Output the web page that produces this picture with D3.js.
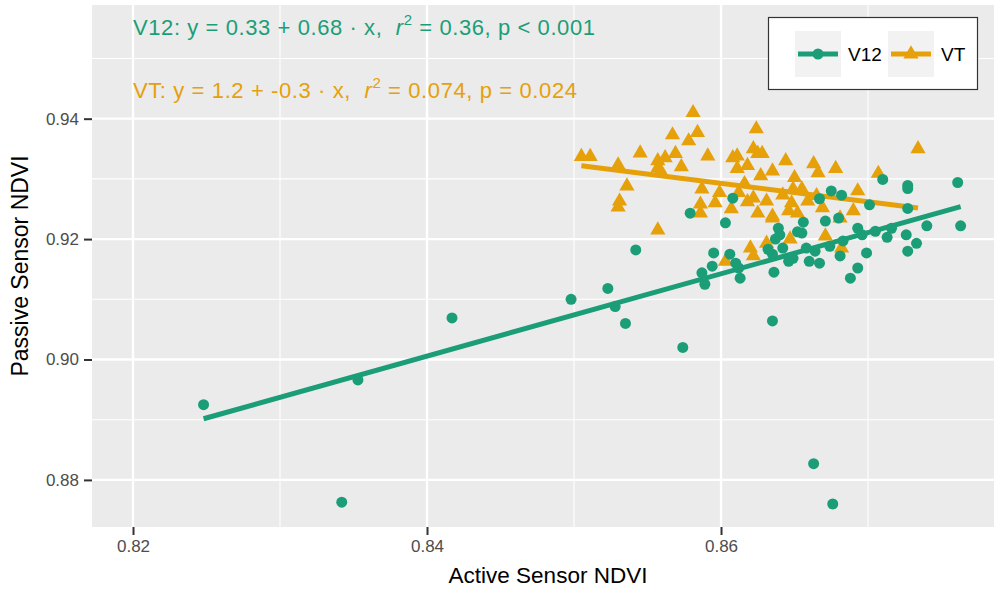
<!DOCTYPE html>
<html>
<head>
<meta charset="utf-8">
<script src="https://cdn.jsdelivr.net/npm/d3@7"></script>
<style>
  body { margin: 0; background: #fff; }
  text { font-family: "Liberation Sans", Arial, sans-serif; }
</style>
</head>
<body>
<svg id="chart" width="994" height="590"></svg>
<script>
// V12 points: active NDVI (x) vs passive NDVI (y)
const v12X = [0.8248, 0.8342, 0.8353, 0.8417, 0.8498, 0.8523, 0.8528, 0.8535, 0.8542, 0.8574,
  0.8579, 0.8603, 0.8595, 0.8606, 0.8587, 0.8589, 0.8610, 0.8612, 0.8613, 0.8608,
  0.8636, 0.8632, 0.8635, 0.8637, 0.8639, 0.8640, 0.8642, 0.8646, 0.8649, 0.8652,
  0.8656, 0.8655, 0.8658, 0.8660, 0.8664, 0.8667, 0.8667, 0.8671, 0.8675, 0.8682,
  0.8680, 0.8683, 0.8681, 0.8674, 0.8688, 0.8693, 0.8693, 0.8696, 0.8701, 0.8699,
  0.8705, 0.8710, 0.8713, 0.8716, 0.8726, 0.8727, 0.8727, 0.8733, 0.8740, 0.8727,
  0.8761, 0.8763, 0.8635, 0.8663, 0.8676, 0.8594, 0.8727];
const v12Y = [0.8925, 0.8763, 0.8966, 0.9069, 0.9100, 0.9118, 0.9088, 0.9060, 0.9182, 0.9020,
  0.9243, 0.9227, 0.9177, 0.9175, 0.9144, 0.9125, 0.9160, 0.9152, 0.9135, 0.9268,
  0.9145, 0.9183, 0.9175, 0.9200, 0.9218, 0.9207, 0.9185, 0.9163, 0.9168, 0.9212,
  0.9228, 0.9210, 0.9185, 0.9163, 0.9180, 0.9160, 0.9267, 0.9230, 0.9280, 0.9273,
  0.9235, 0.9197, 0.9172, 0.9188, 0.9135, 0.9152, 0.9218, 0.9207, 0.9257, 0.9177,
  0.9213, 0.9299, 0.9203, 0.9218, 0.9207, 0.9284, 0.9251, 0.9193, 0.9222, 0.9180,
  0.9294, 0.9222, 0.9064, 0.8827, 0.8760, 0.9155, 0.9289];

// VT points
const vtX = [0.8505, 0.8511, 0.8530, 0.8536, 0.8531, 0.8530, 0.8545, 0.8557, 0.8562, 0.8557,
  0.8559, 0.8569, 0.8573, 0.8567, 0.8578, 0.8584, 0.8581, 0.8591, 0.8557, 0.8586,
  0.8586, 0.8587, 0.8596, 0.8599, 0.8608, 0.8611, 0.8611, 0.8612, 0.8616, 0.8618,
  0.8622, 0.8624, 0.8625, 0.8627, 0.8622, 0.8618, 0.8607, 0.8625, 0.8631, 0.8635,
  0.8635, 0.8620, 0.8631, 0.8603, 0.8622, 0.8642, 0.8644, 0.8649, 0.8655, 0.8648,
  0.8650, 0.8663, 0.8666, 0.8678, 0.8707, 0.8734, 0.8693, 0.8659, 0.8665, 0.8669,
  0.8690, 0.8681, 0.8671, 0.8682, 0.8646, 0.8652, 0.8635, 0.8647, 0.8628];
const vtY = [0.9337, 0.9337, 0.9323, 0.9288, 0.9263, 0.9253, 0.9343, 0.9330, 0.9335, 0.9318,
  0.9313, 0.9342, 0.9320, 0.9373, 0.9363, 0.9377, 0.9410, 0.9338, 0.9215, 0.9258,
  0.9243, 0.9283, 0.9260, 0.9277, 0.9335, 0.9338, 0.9317, 0.9277, 0.9292, 0.9322,
  0.9350, 0.9383, 0.9342, 0.9305, 0.9268, 0.9262, 0.9250, 0.9243, 0.9263, 0.9313,
  0.9238, 0.9185, 0.9193, 0.9163, 0.9172, 0.9273, 0.9330, 0.9283, 0.9283, 0.9260,
  0.9302, 0.9325, 0.9310, 0.9317, 0.9309, 0.9350, 0.9280, 0.9263, 0.9272, 0.9252,
  0.9247, 0.9235, 0.9205, 0.9185, 0.9247, 0.9243, 0.9235, 0.9200, 0.9342];

// fitted lines (intercept, slope) as drawn
const v12Fit = [0.326, 0.684];
const vtFit = [1.192, -0.3055];

const xTicks = [0.82, 0.84, 0.86];
const xMinor = [0.83, 0.85, 0.87];
const yTicks = [0.88, 0.90, 0.92, 0.94];
const yMinor = [0.89, 0.91, 0.93, 0.95];

const seriesNames = ["V12", "VT"];
const colors = { V12: "#1b9e77", VT: "#e6a00a" };

const width = 994, height = 590;
const margin = { top: 5, right: 0, bottom: 63, left: 92 };

const svg = d3.select("#chart");

const x = d3.scaleLinear()
  .domain([0.81721, 0.87857])
  .range([margin.left, width - margin.right]);
const y = d3.scaleLinear()
  .domain([0.87218, 0.95888])
  .range([height - margin.bottom, margin.top]);

// panel
svg.append("rect")
  .attr("x", margin.left).attr("y", margin.top)
  .attr("width", width - margin.left - margin.right)
  .attr("height", height - margin.top - margin.bottom)
  .attr("fill", "#ebebeb");

const grid = svg.append("g");
grid.selectAll(".xmin").data(xMinor).join("line")
  .attr("x1", d => x(d)).attr("x2", d => x(d))
  .attr("y1", margin.top).attr("y2", height - margin.bottom)
  .attr("stroke", "#fff").attr("stroke-width", 1.1);
grid.selectAll(".ymin").data(yMinor).join("line")
  .attr("y1", d => y(d)).attr("y2", d => y(d))
  .attr("x1", margin.left).attr("x2", width - margin.right)
  .attr("stroke", "#fff").attr("stroke-width", 1.1);
grid.selectAll(".xmaj").data(xTicks).join("line")
  .attr("x1", d => x(d)).attr("x2", d => x(d))
  .attr("y1", margin.top).attr("y2", height - margin.bottom)
  .attr("stroke", "#fff").attr("stroke-width", 2.4);
grid.selectAll(".ymaj").data(yTicks).join("line")
  .attr("y1", d => y(d)).attr("y2", d => y(d))
  .attr("x1", margin.left).attr("x2", width - margin.right)
  .attr("stroke", "#fff").attr("stroke-width", 2.4);

// axes
const xAxis = svg.append("g")
  .attr("transform", `translate(0,${height - margin.bottom})`)
  .call(d3.axisBottom(x).tickValues(xTicks).tickFormat(d3.format(".2f")).tickSize(8).tickPadding(5));
const yAxis = svg.append("g")
  .attr("transform", `translate(${margin.left},0)`)
  .call(d3.axisLeft(y).tickValues(yTicks).tickFormat(d3.format(".2f")).tickSize(8).tickPadding(5));
[xAxis, yAxis].forEach(a => {
  a.select(".domain").remove();
  a.selectAll(".tick line").attr("stroke", "#333").attr("stroke-width", 2);
  a.selectAll(".tick text").attr("fill", "#4d4d4d").style("font-size", "17px");
});

svg.append("text")
  .attr("x", 548)
  .attr("y", 583)
  .attr("text-anchor", "middle")
  .style("font-size", "22.5px").attr("fill", "#000")
  .text("Active Sensor NDVI");
svg.append("text")
  .attr("transform", `translate(28,${(margin.top + height - margin.bottom) / 2}) rotate(-90)`)
  .attr("text-anchor", "middle")
  .style("font-size", "23px").attr("fill", "#000")
  .text("Passive Sensor NDVI");

// fit lines
const fits = [
  { name: "V12", fit: v12Fit, xs: v12X },
  { name: "VT", fit: vtFit, xs: vtX }
];
svg.append("g").selectAll("line").data(fits).join("line")
  .attr("x1", d => x(d3.min(d.xs)))
  .attr("x2", d => x(d3.max(d.xs)))
  .attr("y1", d => y(d.fit[0] + d.fit[1] * d3.min(d.xs)))
  .attr("y2", d => y(d.fit[0] + d.fit[1] * d3.max(d.xs)))
  .attr("stroke", d => colors[d.name])
  .attr("stroke-width", 5);

// points
const v12Pts = v12X.map((v, i) => [v, v12Y[i]]);
const vtPts = vtX.map((v, i) => [v, vtY[i]]);
const circle = d3.symbol().type(d3.symbolCircle).size(95);
const tri = d3.symbol().type(d3.symbolTriangle).size(100);

svg.append("g").selectAll("path").data(vtPts).join("path")
  .attr("d", tri)
  .attr("transform", d => `translate(${x(d[0])},${y(d[1])})`)
  .attr("fill", colors.VT);
svg.append("g").selectAll("path").data(v12Pts).join("path")
  .attr("d", circle)
  .attr("transform", d => `translate(${x(d[0])},${y(d[1])})`)
  .attr("fill", colors.V12);

// equation labels
const eqs = [
  { name: "V12", head: "V12: y = 0.33 + 0.68 \u00b7 x,\u00a0\u00a0", tail: " = 0.36, p < 0.001", yb: 35, len: 462 },
  { name: "VT", head: "VT: y = 1.2 + -0.3 \u00b7 x,\u00a0\u00a0", tail: " = 0.074, p = 0.024", yb: 98, len: 444 }
];
eqs.forEach(e => {
  const t = svg.append("text")
    .attr("x", 133).attr("y", e.yb)
    .attr("fill", colors[e.name])
    .attr("textLength", e.len)
    .attr("lengthAdjust", "spacing")
    .style("font-size", "22px");
  t.append("tspan").text(e.head);
  t.append("tspan").style("font-style", "italic").text("r");
  t.append("tspan").attr("dy", -10).style("font-size", "15px").text("2");
  t.append("tspan").attr("dy", 10).text(e.tail);
});

// legend
const lg = svg.append("g");
lg.append("rect")
  .attr("x", 768.5).attr("y", 17.5).attr("width", 209).attr("height", 72)
  .attr("fill", "#fff").attr("stroke", "#333").attr("stroke-width", 1.2);
const keyX = [795, 888];
seriesNames.forEach((name, i) => {
  const kx = keyX[i];
  lg.append("rect").attr("x", kx).attr("y", 31).attr("width", 46).attr("height", 46)
    .attr("fill", "#f2f2f2");
  lg.append("line").attr("x1", kx + 3).attr("x2", kx + 43).attr("y1", 54).attr("y2", 54)
    .attr("stroke", colors[name]).attr("stroke-width", 5);
  lg.append("path")
    .attr("d", name === "V12" ? circle : tri)
    .attr("transform", `translate(${kx + 23},54)`)
    .attr("fill", colors[name]);
  lg.append("text").attr("x", kx + 53).attr("y", 61)
    .style("font-size", "19px").attr("fill", "#000").text(name);
});
</script>
</body>
</html>
